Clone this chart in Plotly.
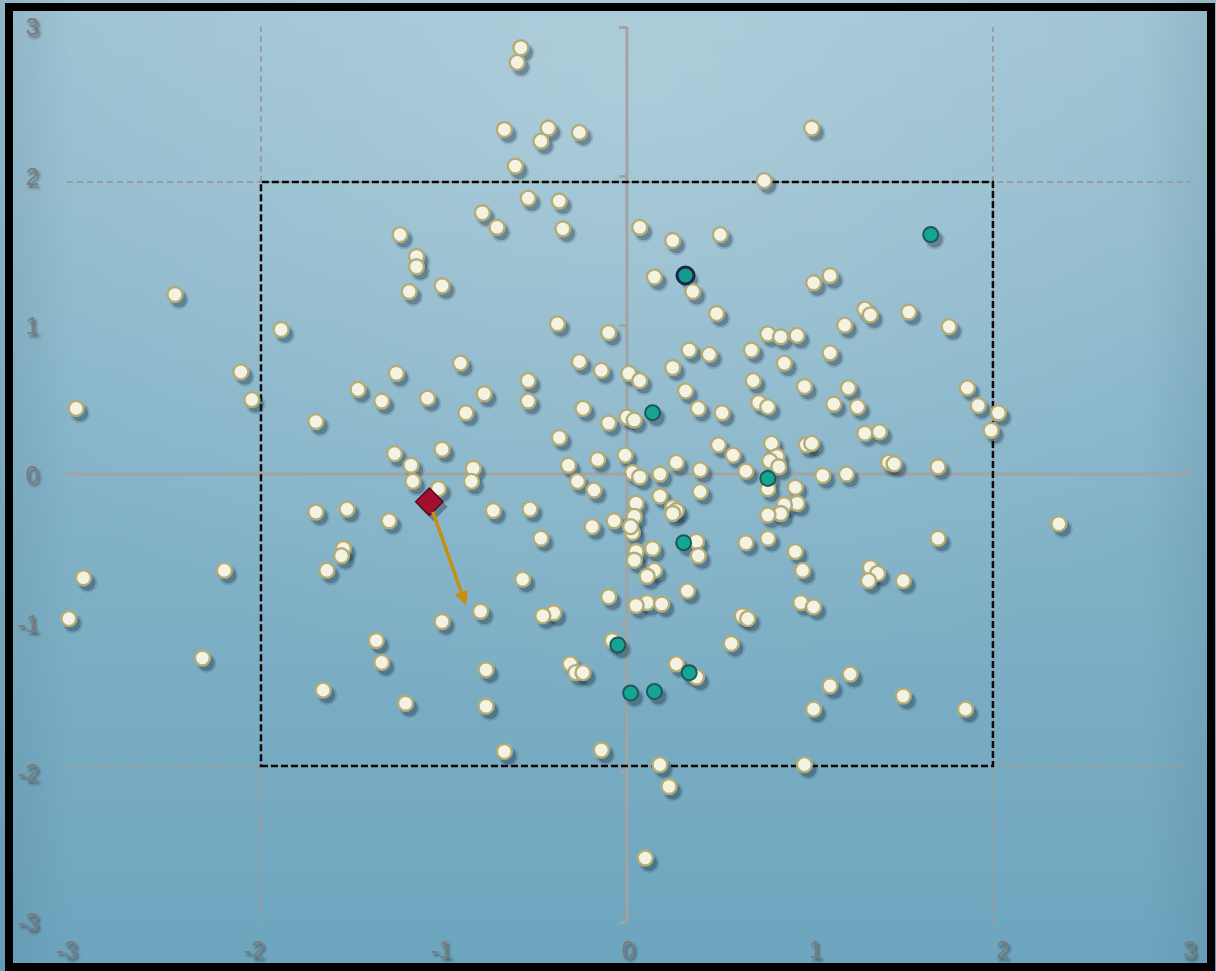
import base64
import plotly.graph_objects as go

# ---------------- data ----------------
cream_x = [-0.58, -0.60, -0.67, -0.43, -0.47, -0.26, 1.01, -0.61, 0.75, -0.54, -0.37, -0.79, -0.71, -0.35,
           -1.24, 0.07, 0.25, 0.51, -1.15, -1.15, 0.15, 1.11, 1.02, -1.01, -1.19, 0.36, -2.47, 1.30, 1.33,
           1.54, 0.49, 1.19, 1.76, -0.38, -1.89, -0.10, 0.77, 0.84, 0.93, 0.34, 0.45, 0.68, 1.11, -0.26,
           -0.14, 0.01, 0.07, -0.91, -1.26, -2.11, 0.86, 0.25, -0.54, 0.69, 0.97, 1.21, 1.86, -1.47, 0.32,
           -0.78, -1.09, -1.34, -2.05, 1.92, 2.03, -3.01, -0.54, -0.24, 0.39, 0.52, 0.72, 0.77, 1.13, 1.26,
           0.00, 0.04, -0.10, -0.88, -1.70, 1.99, 1.30, 1.38, -0.37, 0.50, 0.79, 0.98, 1.01, -1.01, -1.27,
           0.58, -0.01, -0.16, 0.82, 0.78, 0.83, -0.32, 0.27, -1.18, -0.84, 0.40, 0.65, 0.03, 0.18, 1.07,
           1.20, 1.43, 1.46, 1.70, -0.27, -0.18, 0.07, -0.85, -1.17, -1.03, 0.92, 0.77, 0.18, 0.40, 0.93,
           0.86, 0.25, 0.05, 0.84, 0.77, 0.27, 0.25, 0.04, -1.70, -1.53, -0.73, -0.53, -1.30, 2.36, -0.07,
           -0.19, 0.03, 0.02, 0.77, 0.65, -0.47, 1.70, 0.38, 0.39, 0.14, 0.05, 0.04, -1.55, -1.56, 0.92,
           0.96, 0.15, 0.11, -1.64, -2.20, -2.97, -0.57, 1.33, 1.37, 1.32, 1.51, 0.33, -0.10, 0.11, 0.19,
           0.05, 0.95, 1.02, -0.80, -0.40, -0.46, 0.63, 0.66, -1.01, -3.05, -1.37, -0.08, 0.57, -2.32,
           -1.34, -0.77, -0.31, -0.28, -0.24, 0.27, 0.38, 1.22, 1.11, -1.66, -1.21, -0.77, 1.51, 1.85,
           1.02, -0.67, -0.14, 0.18, 0.97, 0.23, 0.10]
cream_y = [2.92, 2.82, 2.36, 2.37, 2.28, 2.34, 2.37, 2.11, 2.01, 1.89, 1.87, 1.79, 1.69, 1.68,
           1.64, 1.69, 1.60, 1.64, 1.49, 1.42, 1.35, 1.36, 1.31, 1.29, 1.25, 1.25, 1.23, 1.13, 1.09,
           1.11, 1.10, 1.02, 1.01, 1.03, 0.99, 0.97, 0.96, 0.94, 0.95, 0.85, 0.82, 0.85, 0.83, 0.77,
           0.71, 0.69, 0.64, 0.76, 0.69, 0.70, 0.76, 0.73, 0.64, 0.64, 0.60, 0.59, 0.59, 0.58, 0.57,
           0.55, 0.52, 0.50, 0.51, 0.47, 0.42, 0.45, 0.50, 0.45, 0.45, 0.42, 0.49, 0.46, 0.48, 0.46,
           0.39, 0.37, 0.35, 0.42, 0.36, 0.30, 0.28, 0.29, 0.25, 0.20, 0.21, 0.20, 0.21, 0.17, 0.14,
           0.13, 0.13, 0.10, 0.12, 0.09, 0.05, 0.06, 0.08, 0.06, 0.04, 0.03, 0.02, 0.01, 0.00, -0.01,
           0.00, 0.08, 0.07, 0.05, -0.05, -0.11, -0.02, -0.05, -0.05, -0.10, -0.09, -0.10, -0.15, -0.12, -0.20,
           -0.21, -0.23, -0.20, -0.27, -0.28, -0.25, -0.27, -0.29, -0.26, -0.24, -0.25, -0.24, -0.32, -0.34, -0.32,
           -0.36, -0.40, -0.36, -0.44, -0.47, -0.44, -0.44, -0.46, -0.56, -0.51, -0.53, -0.59, -0.51, -0.56, -0.53,
           -0.66, -0.66, -0.70, -0.66, -0.66, -0.71, -0.72, -0.64, -0.68, -0.73, -0.73, -0.80, -0.84, -0.88, -0.89,
           -0.90, -0.88, -0.91, -0.94, -0.95, -0.97, -0.97, -0.99, -1.01, -0.99, -1.14, -1.14, -1.16, -1.26,
           -1.29, -1.34, -1.30, -1.36, -1.36, -1.30, -1.39, -1.37, -1.45, -1.48, -1.57, -1.59, -1.52, -1.61,
           -1.61, -1.90, -1.89, -1.99, -1.99, -2.14, -2.63]

teal_x = [1.66, 0.14, 0.77, 0.31, -0.05, 0.34, 0.02, 0.15]
teal_y = [1.64, 0.42, -0.03, -0.47, -1.17, -1.36, -1.50, -1.49]

highlight_x = [0.32]
highlight_y = [1.36]

origin_x = [-1.08]
origin_y = [-0.19]
arrow_end_x = -0.88
arrow_end_y = -0.90

box_lo, box_hi = -2, 2
grid_vals = [-2, 2]
tick_vals = [-3, -2, -1, 0, 1, 2, 3]
tick_labels = ["-3", "-2", "-1", "0", "1", "2", "3"]

# ---------------- layout geometry ----------------
W, H = 1216, 971
ML, MR, MT, MB = 67, 26, 27, 49
PW, PH = W - ML - MR, H - MT - MB
data_xr = [-3.060, 3.077]
data_yr = [-3.068, 3.062]
px_x = (data_xr[1] - data_xr[0]) / PW
px_y = (data_yr[1] - data_yr[0]) / PH
shx, shy = 4, 5
shadow_xr = [data_xr[0] - shx * px_x, data_xr[1] - shx * px_x]
shadow_yr = [data_yr[0] + shy * px_y, data_yr[1] + shy * px_y]
zero_x_paper = (0 - data_xr[0]) / (data_xr[1] - data_xr[0])

# background gradient as svg image
svg = f"""<svg xmlns='http://www.w3.org/2000/svg' width='{W}' height='{H}' viewBox='0 0 {W} {H}' preserveAspectRatio='none'>
<defs>
<linearGradient id='g' x1='0' y1='0' x2='0' y2='1'>
<stop offset='0' stop-color='#99c0d1'/><stop offset='1' stop-color='#6da5be'/></linearGradient>
<radialGradient id='r' cx='0.52' cy='0.08' r='0.65'>
<stop offset='0' stop-color='#ffffff' stop-opacity='0.22'/><stop offset='1' stop-color='#ffffff' stop-opacity='0'/></radialGradient>
<linearGradient id='e' x1='0' y1='0' x2='1' y2='0'>
<stop offset='0' stop-color='#1a3a50' stop-opacity='0.10'/><stop offset='0.06' stop-color='#1a3a50' stop-opacity='0'/>
<stop offset='0.94' stop-color='#1a3a50' stop-opacity='0'/><stop offset='1' stop-color='#1a3a50' stop-opacity='0.10'/></linearGradient>
</defs>
<rect width='{W}' height='{H}' fill='url(#g)'/>
<rect width='{W}' height='{H}' fill='url(#r)'/>
<rect width='{W}' height='{H}' fill='url(#e)'/>
</svg>"""
svg_uri = "data:image/svg+xml;base64," + base64.b64encode(svg.encode()).decode()

fig = go.Figure()

# shadows (base axes, shifted range)
all_x = cream_x + teal_x + highlight_x
all_y = cream_y + teal_y + highlight_y
fig.add_trace(go.Scatter(x=all_x, y=all_y, mode="markers", xaxis="x", yaxis="y", cliponaxis=False,
                         marker=dict(size=20, color="rgba(20,40,60,0.14)", line=dict(width=0)),
                         hoverinfo="skip", showlegend=False))
fig.add_trace(go.Scatter(x=all_x, y=all_y, mode="markers", xaxis="x", yaxis="y", cliponaxis=False,
                         marker=dict(size=16, color="rgba(20,40,60,0.30)", line=dict(width=0)),
                         hoverinfo="skip", showlegend=False))
fig.add_trace(go.Scatter(x=origin_x, y=origin_y, mode="markers", xaxis="x", yaxis="y", cliponaxis=False,
                         marker=dict(size=22, symbol="diamond", color="rgba(20,40,60,0.38)", line=dict(width=0)),
                         hoverinfo="skip", showlegend=False))

# real marks
fig.add_trace(go.Scatter(x=cream_x, y=cream_y, mode="markers", xaxis="x2", yaxis="y2", cliponaxis=False,
                         marker=dict(size=15, color="#f4f2e2", line=dict(color="#b1ac78", width=2.4)),
                         showlegend=False))
fig.add_trace(go.Scatter(x=teal_x, y=teal_y, mode="markers", xaxis="x2", yaxis="y2", cliponaxis=False,
                         marker=dict(size=15, color="#15a594", line=dict(color="#1b5a55", width=2)),
                         showlegend=False))
fig.add_trace(go.Scatter(x=highlight_x, y=highlight_y, mode="markers", xaxis="x2", yaxis="y2", cliponaxis=False,
                         marker=dict(size=17, color="#169b8c", line=dict(color="#18294a", width=3)),
                         showlegend=False))
fig.add_trace(go.Scatter(x=origin_x, y=origin_y, mode="markers", xaxis="x2", yaxis="y2", cliponaxis=False,
                         marker=dict(size=21, symbol="diamond", color="#a3102f", line=dict(color="#5a0818", width=1.5)),
                         showlegend=False))
# label / tick axes binding
fig.add_trace(go.Scatter(x=[], y=[], xaxis="x3", yaxis="y3", showlegend=False, hoverinfo="skip"))
fig.add_trace(go.Scatter(x=[], y=[], xaxis="x3", yaxis="y4", showlegend=False, hoverinfo="skip"))

shapes = []
for v in grid_vals:
    shapes.append(dict(type="line", xref="x2", yref="paper", x0=v, x1=v, y0=0, y1=1, layer="below",
                       line=dict(color="#9c9c9c", width=2, dash="6px,4px")))
    shapes.append(dict(type="line", xref="paper", yref="y2", x0=0, x1=1, y0=v, y1=v, layer="below",
                       line=dict(color="#9c9c9c", width=2, dash="6px,4px")))
shapes.append(dict(type="line", xref="x2", yref="paper", x0=0, x1=0, y0=0, y1=1, layer="below",
                   line=dict(color="#a3a3a3", width=3)))
shapes.append(dict(type="line", xref="paper", yref="y2", x0=0, x1=1, y0=0, y1=0, layer="below",
                   line=dict(color="#a3a3a3", width=3)))
shapes.append(dict(type="rect", xref="x2", yref="y2", x0=box_lo, x1=box_hi, y0=box_lo, y1=box_hi, layer="below",
                   line=dict(color="#0a0a0a", width=2.5, dash="7px,3px")))
# outer frame
shapes.append(dict(type="rect", xref="paper", yref="paper",
                   x0=(9 - ML) / PW, x1=(1211 - ML) / PW, y0=(H - MB - 967) / PH, y1=(H - MB - 7) / PH,
                   layer="above", line=dict(color="#000000", width=8)))

label_font = dict(family="Liberation Sans, Arial, sans-serif", size=24, color="#7c7c7c",
                  shadow="2px 3px 3px rgba(0,0,0,0.45)")

fig.update_layout(
    width=W, height=H,
    margin=dict(l=ML, r=MR, t=MT, b=MB, pad=0, autoexpand=False),
    paper_bgcolor="#86b4c8",
    plot_bgcolor="rgba(0,0,0,0)",
    showlegend=False,
    images=[dict(source=svg_uri, xref="paper", yref="paper", x=-ML / PW, y=1 + MT / PH,
                 sizex=W / PW, sizey=H / PH, xanchor="left", yanchor="top", sizing="stretch", layer="below")],
    xaxis=dict(range=shadow_xr, visible=False, fixedrange=True, automargin=False),
    yaxis=dict(range=shadow_yr, visible=False, fixedrange=True, automargin=False),
    xaxis2=dict(range=data_xr, overlaying="x", anchor="y2", visible=False, automargin=False),
    yaxis2=dict(range=data_yr, overlaying="y", anchor="x2", visible=False, automargin=False),
    xaxis3=dict(range=[-3, 3], overlaying="x", anchor="y3", showgrid=False, zeroline=False, showline=False,
                tickmode="array", tickvals=tick_vals, ticktext=tick_labels, ticks="outside", ticklen=6,
                tickcolor="rgba(0,0,0,0)", tickfont=label_font, automargin=False),
    yaxis3=dict(range=[-3, 3], overlaying="y", anchor="x3", showgrid=False, zeroline=False, showline=False,
                tickmode="array", tickvals=tick_vals, ticktext=tick_labels, ticks="outside", ticklen=22,
                tickcolor="rgba(0,0,0,0)", tickfont=label_font, automargin=False),
    yaxis4=dict(range=[-3, 3], overlaying="y", anchor="free", position=zero_x_paper, side="left",
                showgrid=False, zeroline=False, showline=False, showticklabels=False,
                tickmode="array", tickvals=tick_vals, ticks="outside", ticklen=8, tickwidth=2.5,
                tickcolor="#a3a3a3", automargin=False),
    shapes=shapes,
    annotations=[dict(x=arrow_end_x, y=arrow_end_y, ax=origin_x[0], ay=origin_y[0],
                      xref="x2", yref="y2", axref="x2", ayref="y2", text="", showarrow=True,
                      arrowhead=2, arrowsize=0.8, arrowwidth=3.5, arrowcolor="#c8900c", startstandoff=9)],
)

fig.write_html("out.html", config={"displayModeBar": False},
               post_script="document.body.style.margin='0';document.body.style.padding='0';"
                           "document.body.style.overflow='hidden';")
